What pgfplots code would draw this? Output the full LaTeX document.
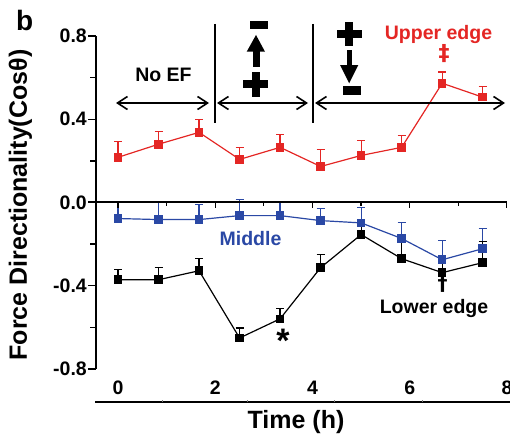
\documentclass[border=0pt]{standalone}
\usepackage{pgfplots}
\pgfplotsset{compat=1.18}
\usepackage{fontspec}
\setmainfont{Liberation Sans}
\newfontfamily\dejavu{DejaVu Sans}
\usetikzlibrary{arrows.meta}
\definecolor{cred}{RGB}{228,38,36}
\definecolor{cblue}{RGB}{42,72,165}
\newcommand{\fs}[1]{\bfseries\fontsize{#1}{#1}\selectfont}
\begin{document}
\begin{tikzpicture}
\begin{axis}[
  at={(0,0)}, anchor=south west,
  scale only axis, width=411pt, height=333pt,
  xmin=-0.453, xmax=8, ymin=-0.8, ymax=0.8,
  axis lines*=left,
  axis line style={line width=1.4pt},
  x axis line style={draw=none},
  xtick={0,2,4,6,8},
  major x tick style={draw=none},
  xtick align=inside,
  xticklabel style={anchor=base, yshift=-25pt, font=\fs{19.5}},
  ytick={-0.8,-0.4,0,0.4,0.8},
  minor ytick={-0.6,-0.2,0.2,0.6},
  ytick align=outside,
  major tick length=8pt, minor tick length=6pt,
  y tick style={line width=1.4pt, black},
  yticklabel style={font=\fs{19.5}, inner sep=1pt,
    /pgf/number format/.cd, fixed, fixed zerofill, precision=1},
  /pgf/number format/assume math mode=true,
  clip=false,
  error bars/y dir=plus, error bars/y explicit,
  error bars/error mark options={rotate=90, mark size=4pt, line width=1.2pt},
  every axis plot/.append style={line width=1.2pt, mark=square*, mark size=3.7pt,
    error bars/error bar style={line width=1.2pt}},
]
% Upper edge
\addplot[cred, mark options={fill=cred}] coordinates {
 (0,0.217) +- (0,0.077)
 (0.833,0.280) +- (0,0.062)
 (1.667,0.337) +- (0,0.063)
 (2.5,0.207) +- (0,0.058)
 (3.333,0.265) +- (0,0.063)
 (4.167,0.173) +- (0,0.082)
 (5,0.226) +- (0,0.073)
 (5.833,0.265) +- (0,0.058)
 (6.667,0.573) +- (0,0.054)
 (7.5,0.506) +- (0,0.053)
};
% Middle
\addplot[cblue, mark options={fill=cblue}] coordinates {
 (0,-0.077) +- (0,0.082)
 (0.833,-0.082) +- (0,0.082)
 (1.667,-0.082) +- (0,0.072)
 (2.5,-0.063) +- (0,0.077)
 (3.333,-0.063) +- (0,0.067)
 (4.167,-0.087) +- (0,0.058)
 (5,-0.098) +- (0,0.074)
 (5.833,-0.173) +- (0,0.077)
 (6.667,-0.275) +- (0,0.092)
 (7.5,-0.222) +- (0,0.097)
};
% Lower edge
\addplot[black, mark options={fill=black}] coordinates {
 (0,-0.371) +- (0,0.048)
 (0.833,-0.371) +- (0,0.058)
 (1.667,-0.328) +- (0,0.058)
 (2.5,-0.651) +- (0,0.048)
 (3.333,-0.559) +- (0,0.048)
 (4.167,-0.313) +- (0,0.062)
 (5,-0.154) +- (0,0.058)
 (5.833,-0.270) +- (0,0.100)
 (6.667,-0.337) +- (0,0.080)
 (7.5,-0.289) +- (0,0.100)
};
\end{axis}
\begin{scope}[x=1pt, y=-1pt, shift={(-96pt,369pt)}]
 % zero line with ticks
 \draw[line width=1.3pt] (88,202) -- (507,202);
 \foreach \i in {0,2,4,6,8} {\draw[line width=1.3pt] ({118+48.6*\i},202) -- ++(0,6);}
 \foreach \i in {1,3,5,7} {\draw[line width=1.1pt] ({118+48.6*\i},202) -- ++(0,4);}
 % bottom line
 \draw[line width=2pt] (95,402) -- (510,402);
 \foreach \x in {162,247,334,422} {\draw[line width=0.8pt, gray] (\x,402) -- ++(0,-2.5);}
 % separators
 \draw[line width=1.3pt] (215,24) -- (215,123);
 \draw[line width=1.3pt] (313,24) -- (313,123);
 % double arrows
 \tikzset{barb/.style={line width=1.6pt, {Straight Barb[length=10pt,width=13pt]}-{Straight Barb[length=10pt,width=13pt]}}}
 \draw[barb] (116,103) -- (209,103);
 \draw[barb] (217,103) -- (308,103);
 \draw[barb] (315,103) -- (505,103);
 % middle segment symbols: minus, up arrow, plus
 \fill (250,21) rectangle (268.3,29.3);
 \fill (253.3,50) rectangle (259.8,66.7);
 \fill (246.7,51.7) -- (265,51.7) -- (256,35) -- cycle;
 \fill (243.3,80) rectangle (268.3,88.3);
 \fill (251.7,71.7) rectangle (260,96.7);
 % right segment symbols: plus, down arrow, minus
 \fill (336.7,30) rectangle (361.7,37.7);
 \fill (345,21.7) rectangle (353.3,46);
 \fill (346.5,50) rectangle (352,66.7);
 \fill (340,65) -- (358.3,65) -- (349.2,83.3) -- cycle;
 \fill (342.7,86) rectangle (360.7,95);
 % texts
 \node[font=\fs{19.5}, anchor=base] at (163.5,81) {No EF};
 \node[font=\fs{19.5}, anchor=base, text=cred] at (438.5,40) {Upper edge};
 \node[font=\dejavu\fs{22}, anchor=center, inner sep=0pt, text=cred] at (444,53.5) {‡};
 \node[font=\fs{19.5}, anchor=base, text=cblue] at (250.5,245) {Middle};
 \node[font=\fs{19.5}, anchor=base] at (434,313) {Lower edge};
 \node[font=\dejavu\fs{20}, anchor=center, inner sep=0pt] at (442.5,284.5) {†};
 \node[font=\fs{34}, anchor=base, inner sep=0pt] at (283,352.5) {*};
 \node[font=\fs{28}, anchor=base west, inner sep=0pt] at (16,31) {b};
 \node[font=\fs{25}, anchor=base, rotate=90, inner sep=0pt] at (27,205) {Force Directionality(Cosθ)};
 \node[font=\fs{25}, anchor=base, inner sep=0pt] at (296,428) {Time (h)};
 \pgfresetboundingbox
 \path (0,0) rectangle (510,440);
\end{scope}
\end{tikzpicture}
\end{document}
